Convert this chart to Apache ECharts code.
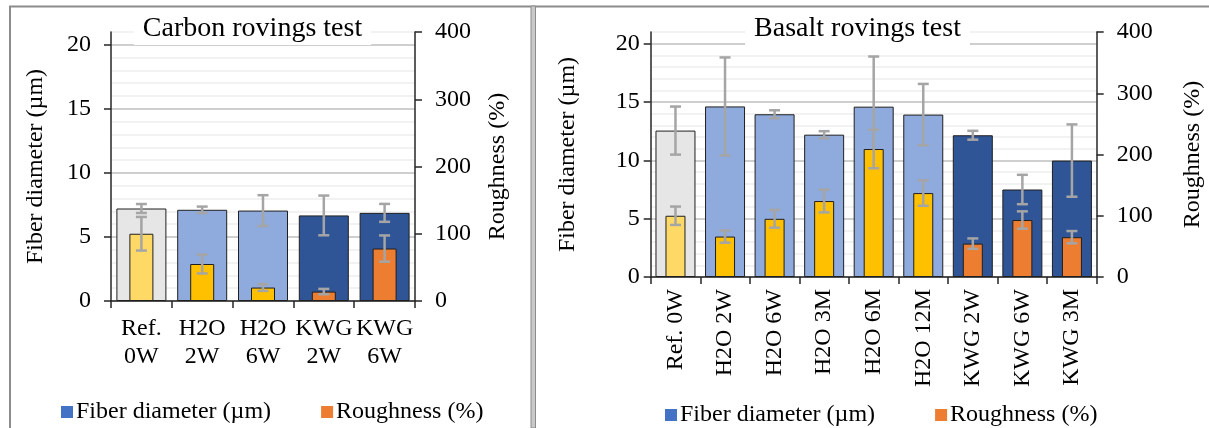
<!DOCTYPE html>
<html><head><meta charset="utf-8">
<script src="https://cdn.jsdelivr.net/npm/echarts@6/dist/echarts.min.js"></script>
<style>html,body{margin:0;padding:0;background:#fff}#c{width:1209px;height:428px}</style>
</head><body><div id="c"></div>
<script>
// ---------- data ----------
const carbonCategories = ['Ref. 0W', 'H2O 2W', 'H2O 6W', 'KWG 2W', 'KWG 6W'];
const carbonGroups = ['ref', 'h2o', 'h2o', 'kwg', 'kwg'];
const carbonDiameter = [7.22, 7.12, 7.06, 6.68, 6.88];
const carbonDiameterErr = [0.35, 0.25, 1.2, 1.55, 0.7];
const carbonRoughness = [100, 55, 20, 14, 78];
const carbonRoughnessErr = [25, 14, 5, 4, 19.5];

const basaltCategories = ['Ref. 0W', 'H2O 2W', 'H2O 6W', 'H2O 3M', 'H2O 6M', 'H2O 12M', 'KWG 2W', 'KWG 6W', 'KWG 3M'];
const basaltGroups = ['ref', 'h2o', 'h2o', 'h2o', 'h2o', 'h2o', 'kwg', 'kwg', 'kwg'];
const basaltDiameter = [12.55, 14.62, 13.95, 12.2, 14.6, 13.92, 12.15, 7.5, 9.98];
const basaltDiameterErr = [2.06, 4.2, 0.34, 0.3, 4.3, 2.63, 0.38, 1.26, 3.1];
const basaltRoughness = [100, 66, 95, 124, 209, 137, 54.5, 93, 65];
const basaltRoughnessErr = [15, 10, 14.5, 18.5, 31.5, 20.7, 8.5, 14.2, 10];

const diameterTicks = [0, 5, 10, 15, 20];
const roughnessTicks = [0, 100, 200, 300, 400];
const diameterMax = 21;
const roughnessMax = 400;

const titles = ['Carbon rovings test', 'Basalt rovings test'];
const nameDiameter = 'Fiber diameter (µm)';
const nameRoughness = 'Roughness (%)';

// ---------- styles ----------
const FONT = 'Liberation Serif';
const bigColors = { ref: '#e7e6e6', h2o: '#8faadc', kwg: '#2f5597' };
const smallColors = { ref: '#ffd966', h2o: '#ffc000', kwg: '#ed7d31' };
const AXIS_COLOR = '#262626';
const ERR_COLOR = '#a5a5a5';
const RICH = { f: { fontFamily: FONT, fontSize: 24, color: '#000' } };

function errRender(params, api) {
  const x = api.value(0), lo = api.value(1), hi = api.value(2);
  const pLo = api.coord([x, lo]), pHi = api.coord([x, hi]);
  const hw = 5.5;
  const style = { stroke: ERR_COLOR, lineWidth: 2.5 };
  return { type: 'group', children: [
    { type: 'line', shape: { x1: pLo[0], y1: pLo[1], x2: pHi[0], y2: pHi[1] }, style },
    { type: 'line', shape: { x1: pLo[0] - hw, y1: pLo[1], x2: pLo[0] + hw, y2: pLo[1] }, style },
    { type: 'line', shape: { x1: pHi[0] - hw, y1: pHi[1], x2: pHi[0] + hw, y2: pHi[1] }, style }
  ]};
}

function errData(vals, errs) {
  return vals.map((v, i) => [i, v - errs[i], v + errs[i]]);
}
function barData(vals, groups, palette) {
  return vals.map((v, i) => ({ value: v, itemStyle: { color: palette[groups[i]] } }));
}

function txt(extra) {
  return Object.assign({ fontFamily: FONT, fontSize: 24, color: '#000' }, extra || {});
}

function xAxes(gridIndex, cats, rotated) {
  return [
    {
      type: 'category', gridIndex, data: cats,
      axisLine: { lineStyle: { color: AXIS_COLOR, width: 1.5 } },
      axisTick: { show: true, length: 7, lineStyle: { color: AXIS_COLOR, width: 1.5 } },
      axisLabel: rotated
        ? txt({ rotate: 90, interval: 0, margin: 12 })
        : txt({ interval: 0, margin: 14, lineHeight: 28, formatter: v => v.replace(' ', '\n') }),
      splitLine: { show: false }
    },
    { type: 'category', gridIndex, data: cats, show: false }
  ];
}

function yAxes(gridIndex, leftGap, leftMargin, rightGap) {
  return [
    {
      type: 'value', gridIndex, position: 'left', min: 0, max: diameterMax, interval: 5,
      name: '{f|' + nameDiameter + '}', nameLocation: 'middle', nameGap: leftGap, nameRotate: 90,
      nameTextStyle: txt({ rich: RICH }),
      axisLine: { show: true, lineStyle: { color: AXIS_COLOR, width: 1.5 } },
      axisTick: { show: true, length: 7, customValues: diameterTicks, lineStyle: { color: AXIS_COLOR, width: 1.5 } },
      axisLabel: txt({ margin: leftMargin, customValues: diameterTicks, formatter: v => '{f|' + v + '}', rich: RICH }),
      splitLine: { show: false }
    },
    {
      type: 'value', gridIndex, position: 'right', min: 0, max: roughnessMax, interval: 100,
      name: '{f|' + nameRoughness + '}', nameLocation: 'middle', nameGap: rightGap, nameRotate: 90,
      nameTextStyle: txt({ rich: RICH }),
      axisLine: { show: true, lineStyle: { color: AXIS_COLOR, width: 1.5 } },
      axisTick: { show: true, length: 7, customValues: roughnessTicks, lineStyle: { color: AXIS_COLOR, width: 1.5 } },
      axisLabel: txt({ margin: 20, customValues: roughnessTicks, formatter: v => '{f|' + v + '}', rich: RICH }),
      splitLine: { show: false }
    },
    {
      type: 'value', gridIndex, position: 'left', min: 0, max: diameterMax, interval: 1,
      axisLine: { show: false }, axisTick: { show: false }, axisLabel: { show: false },
      splitLine: { show: true, lineStyle: { width: 1.5, color: ['#bfbfbf', '#eeeeee', '#eeeeee', '#eeeeee', '#eeeeee'] } }
    }
  ];
}

function seriesFor(xBase, yBase, groups, dia, diaErr, rough, roughErr, bigW, smallW) {
  return [
    { name: nameDiameter, type: 'bar', xAxisIndex: xBase, yAxisIndex: yBase, barWidth: bigW, z: 2,
      itemStyle: { color: '#4472c4', borderColor: '#1f1f1f', borderWidth: 1 },
      data: barData(dia, groups, bigColors) },
    { name: 'diaErr', type: 'custom', xAxisIndex: xBase, yAxisIndex: yBase, z: 3, clip: false,
      renderItem: errRender, encode: { x: 0, y: [1, 2] }, data: errData(dia, diaErr) },
    { name: nameRoughness, type: 'bar', xAxisIndex: xBase + 1, yAxisIndex: yBase + 1, barWidth: smallW, z: 4,
      itemStyle: { color: '#ed7d31', borderColor: '#1f1f1f', borderWidth: 1 },
      data: barData(rough, groups, smallColors) },
    { name: 'roughErr', type: 'custom', xAxisIndex: xBase + 1, yAxisIndex: yBase + 1, z: 5, clip: false,
      renderItem: errRender, encode: { x: 0, y: [1, 2] }, data: errData(rough, roughErr) }
  ];
}

function legendFor(left, top, gap) {
  return {
    data: [nameDiameter, nameRoughness], icon: 'rect', itemWidth: 12, itemHeight: 12, itemGap: gap,
    left, top, itemStyle: { borderWidth: 0 }, textStyle: txt({ padding: [0, 0, 0, -2] }), selectedMode: false
  };
}

const option = {
  animation: false,
  backgroundColor: '#fff',
  textStyle: { fontFamily: FONT },
  grid: [
    { left: 111, width: 304, top: 32, height: 269 },
    { left: 650.7, width: 446, top: 32, height: 245 }
  ],
  xAxis: [].concat(xAxes(0, carbonCategories, false), xAxes(1, basaltCategories, true)),
  yAxis: [].concat(yAxes(0, 63, 20, 71), yAxes(1, 71, 11, 84)),
  legend: [legendFor(56, 395, 50), legendFor(660, 398, 60)],
  series: [].concat(
    seriesFor(0, 0, carbonGroups, carbonDiameter, carbonDiameterErr, carbonRoughness, carbonRoughnessErr, 50, 24),
    seriesFor(2, 3, basaltGroups, basaltDiameter, basaltDiameterErr, basaltRoughness, basaltRoughnessErr, 40, 20)
  ),
  graphic: [
    { type: 'line', z: 100, shape: { x1: 9, y1: 6.5, x2: 1209, y2: 6.5 }, style: { stroke: '#8c8c8c', lineWidth: 2 } },
    { type: 'line', z: 100, shape: { x1: 10, y1: 6, x2: 10, y2: 428 }, style: { stroke: '#8c8c8c', lineWidth: 2 } },
    { type: 'rect', z: 100, shape: { x: 531, y: 6, width: 4.5, height: 422 }, style: { fill: '#c8c8c8', stroke: '#8c8c8c', lineWidth: 1 } },
    { type: 'text', z: 50, x: 252.5, y: 29, style: { text: titles[0], align: 'center', verticalAlign: 'middle',
      fontFamily: FONT, fontSize: 28, fill: '#000', backgroundColor: '#fff', padding: [2, 9] } },
    { type: 'text', z: 50, x: 857.5, y: 29, style: { text: titles[1], align: 'center', verticalAlign: 'middle',
      fontFamily: FONT, fontSize: 28, fill: '#000', backgroundColor: '#fff', padding: [2, 9] } }
  ]
};

const chart = echarts.init(document.getElementById('c'), null, { renderer: 'canvas' });
chart.setOption(option);
</script>
</body></html>
